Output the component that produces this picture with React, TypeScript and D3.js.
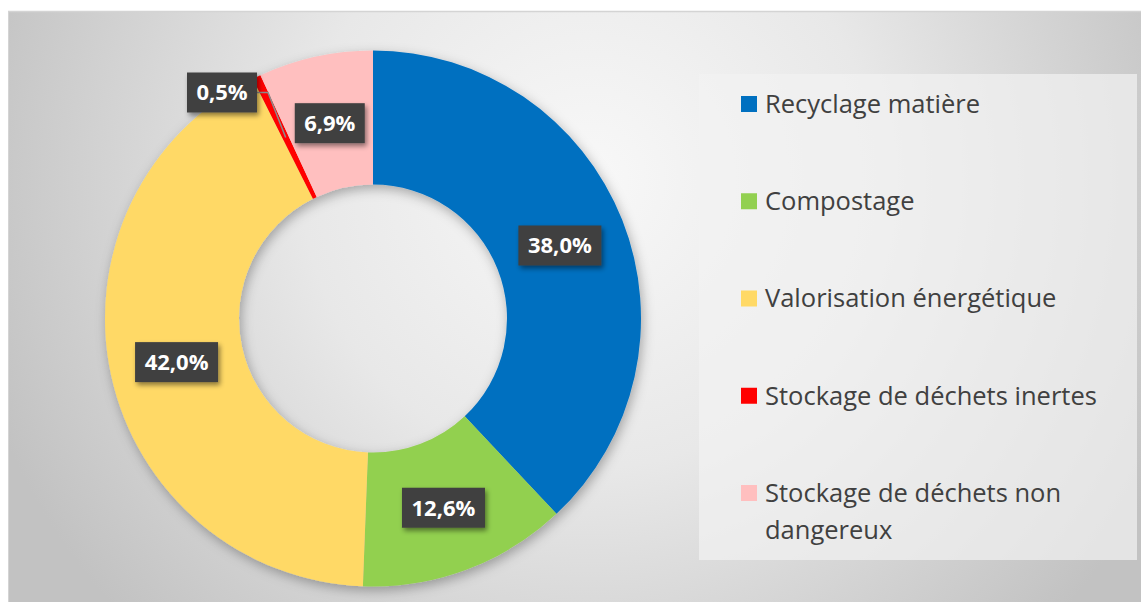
import React from "react";
import * as d3 from "d3";

const categories = [
  "Recyclage matière",
  "Compostage",
  "Valorisation énergétique",
  "Stockage de déchets inertes",
  "Stockage de déchets non dangereux",
];
const values = [38.0, 12.6, 42.0, 0.5, 6.9];
const labels = ["38,0%", "12,6%", "42,0%", "0,5%", "6,9%"];
const colors = ["#0070C0", "#92D050", "#FFD966", "#FF0000", "#FFBFBF"];
const legendLines = [
  ["Recyclage matière"],
  ["Compostage"],
  ["Valorisation énergétique"],
  ["Stockage de déchets inertes"],
  ["Stockage de déchets non", "dangereux"],
];

export default function App() {
  const W = 1141, H = 602;
  const cx = 373, cy = 318.5, rOuter = 268, rInner = 134;
  const pie = d3.pie<number>().sort(null).value((d) => d)(values);
  const arc = d3.arc<d3.PieArcDatum<number>>().innerRadius(rInner).outerRadius(rOuter);
  const labelArc = d3.arc<d3.PieArcDatum<number>>().innerRadius(201).outerRadius(201);
  const legendY = d3.scalePoint<number>().domain(d3.range(categories.length)).range([104, 493]);

  const boxPos = pie.map((p, i) => {
    const [x, y] = labelArc.centroid(p);
    if (i === 3) return { x: cx - 151, y: cy - 226, ax: cx + x, ay: cy + y };
    return { x: cx + x, y: cy + y + 1, ax: cx + x, ay: cy + y };
  });

  return (
    <svg width={W} height={H} style={{ position: "absolute", left: 0, top: 0 }} fontFamily="'Open Sans', Lato, sans-serif">
      <defs>
        <radialGradient id="bg" gradientUnits="userSpaceOnUse" cx={590} cy={180} r={640}>
          <stop offset="0" stopColor="#f8f8f8" />
          <stop offset="0.45" stopColor="#e8e8e8" />
          <stop offset="1" stopColor="#c2c2c2" />
        </radialGradient>
        <filter id="sh" x="-20%" y="-20%" width="140%" height="140%">
          <feDropShadow dx="2" dy="4" stdDeviation="6" floodColor="#000" floodOpacity="0.3" />
        </filter>
        <filter id="bsh" x="-30%" y="-30%" width="160%" height="160%">
          <feDropShadow dx="2" dy="3" stdDeviation="2.5" floodColor="#000" floodOpacity="0.45" />
        </filter>
      </defs>
      <rect x={0} y={0} width={W} height={H} fill="#ffffff" />
      <rect x={8} y={11} width={W - 8} height={H - 11} fill="url(#bg)" />
      <line x1={8} x2={W} y1={11.5} y2={11.5} stroke="#d4d4d4" strokeWidth={1.5} />
      <line x1={8.5} x2={8.5} y1={11} y2={H} stroke="#d4d4d4" strokeWidth={1} />

      <g transform={`translate(${cx},${cy})`} filter="url(#sh)">
        {pie.map((p, i) => (
          <path key={i} d={arc(p) || ""} fill={colors[i]} />
        ))}
      </g>

      <polyline
        points={`${boxPos[3].x + 35},${boxPos[3].y} ${boxPos[3].x + 46},${boxPos[3].y} ${boxPos[3].ax},${boxPos[3].ay}`}
        fill="none"
        stroke="#8c8c8c"
        strokeWidth={1.5}
      />

      {pie.map((p, i) => {
        const b = boxPos[i];
        const w = labels[i].length === 4 ? 70 : 83;
        return (
          <g key={i} transform={`translate(${b.x},${b.y})`}>
            <rect x={-w / 2} y={-20} width={w} height={40} fill="#404040" filter="url(#bsh)" />
            <text x={0} y={0} dy="0.36em" textAnchor="middle" fill="#ffffff" fontWeight="bold" fontSize={22}>
              {labels[i]}
            </text>
          </g>
        );
      })}

      <rect x={699} y={74} width={438} height={486} fill="#f2f2f2" fillOpacity={0.7} />
      {categories.map((c, i) => (
        <g key={c} transform={`translate(741,${legendY(i)})`}>
          <rect x={0} y={-8} width={16} height={16} fill={colors[i]} />
          {legendLines[i].map((ln, j) => (
            <text key={j} x={24} y={j * 37} dy="0.35em" fill="#404040" fontSize={25.5}>
              {ln}
            </text>
          ))}
        </g>
      ))}
    </svg>
  );
}
